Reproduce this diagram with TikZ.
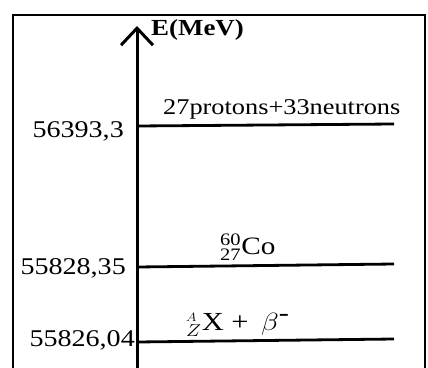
\documentclass[tikz,border=0pt]{standalone}
\usepackage{fontspec}
\setmainfont{Liberation Serif}
\usetikzlibrary{arrows.meta}
\newcommand{\wtxt}[1]{\scalebox{1.17}[1]{#1}}
\tikzset{
  frame/.style={line width=2.4pt},
  level/.style={line width=2.8pt},
  axisline/.style={line width=3pt,-{Straight Barb[length=17pt,width=32pt,line width=3pt]}},
  val/.style={font=\fontsize{24}{26}\selectfont, inner sep=0pt},
  lbl/.style={font=\fontsize{22.5}{26}\selectfont, inner sep=0pt}
}
\begin{document}
\begin{tikzpicture}[x=1pt,y=-1pt]
\useasboundingbox[fill=white] (0,0) rectangle (428,367);
% frame
\coordinate (fbl) at (13,368);
\coordinate (ftl) at (13,15);
\coordinate (ftr) at (425,15);
\coordinate (fbr) at (425,368);
\draw[frame] (fbl) -- (ftl) -- (ftr) -- (fbr);
% axis
\coordinate (ax0) at (137,368);
\coordinate (ax1) at (137,26);
\draw[axisline] (ax0) -- (ax1);
\node[font=\bfseries\fontsize{23}{26}\selectfont, inner sep=0pt, anchor=west] (elabel) at (151,30) {\wtxt{E(MeV)}};
% levels
\coordinate (l1a) at (137,126);
\coordinate (l1b) at (394,124);
\coordinate (l2a) at (137,267);
\coordinate (l2b) at (394,264);
\coordinate (l3a) at (137,342);
\coordinate (l3b) at (394,339);
\draw[level] (l1a) -- (l1b);
\draw[level] (l2a) -- (l2b);
\draw[level] (l3a) -- (l3b);
% values
\node[val, anchor=east] (v1) at (124,131) {\wtxt{56393,3}};
\node[val, anchor=east] (v2) at (126,268) {\wtxt{55828,35}};
\node[val, anchor=east] (v3) at (135,340) {\wtxt{55826,04}};
% state labels
\node[lbl, anchor=west] (s1) at (163,109) {\wtxt{27protons+33neutrons}};
\node[lbl, anchor=west] (s2) at (220,247) {\wtxt{\fontsize{25}{27}\selectfont$^{\mathrm{60}}_{\mathrm{27}}$Co}};
\node[lbl, anchor=west] (s3) at (186,325) {\wtxt{\fontsize{26}{28}\selectfont$^{\scriptscriptstyle A}_{Z}$X + \,$\beta^{\mbox{-}}$}};
\end{tikzpicture}
\end{document}
